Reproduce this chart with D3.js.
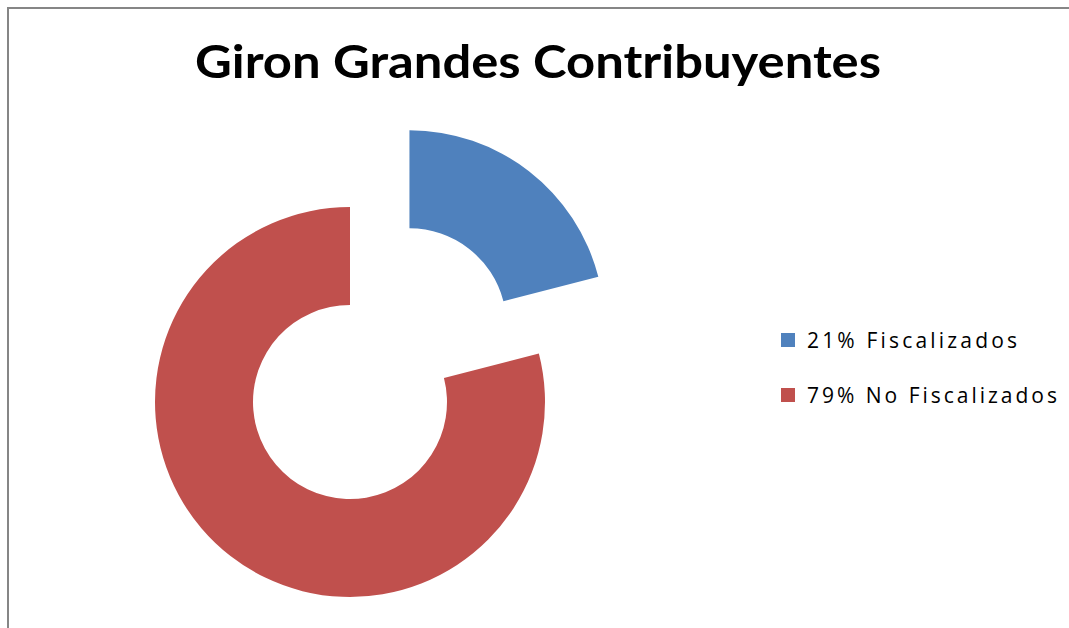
<!DOCTYPE html>
<html>
<head>
<meta charset="utf-8">
<script src="https://cdn.jsdelivr.net/npm/d3@7"></script>
<style>
  html, body { margin: 0; background: #fff; overflow: hidden; }
  svg { display: block; }
</style>
</head>
<body>
<div id="chart"></div>
<script>
// Data
const categories = ["21% Fiscalizados", "79% No Fiscalizados"];
const values = [21, 79];
const colors = ["#4F81BD", "#C0504D"];
const explode = [97, 0]; // first slice is pulled out

const width = 1069;
const height = 628;

const svg = d3.select("#chart")
  .append("svg")
  .attr("width", width)
  .attr("height", height);

// chart frame (only left and top edges are visible)
svg.append("rect")
  .attr("x", 8)
  .attr("y", 8)
  .attr("width", 1200)
  .attr("height", 800)
  .attr("fill", "none")
  .attr("stroke", "#868686")
  .attr("stroke-width", 2);

// Title
svg.append("text")
  .attr("x", 195)
  .attr("y", 78)
  .attr("textLength", 686)
  .attr("lengthAdjust", "spacingAndGlyphs")
  .attr("font-family", "Lato, 'Open Sans', sans-serif")
  .attr("font-weight", "bold")
  .attr("font-size", "46px")
  .text("Giron Grandes Contribuyentes");

/*
  Doughnut
*/
const cx = 350, cy = 402;
const outerR = 195, innerR = 97;

const pie = d3.pie().sort(null).value(d => d);
const arc = d3.arc().innerRadius(innerR).outerRadius(outerR);

const slices = pie(values);

svg.selectAll(".slice")
  .data(slices)
  .enter()
  .append("path")
    .attr("class", "slice")
    .attr("d", arc)
    .attr("fill", (d, i) => colors[i])
    .attr("transform", (d, i) => {
      const mid = (d.startAngle + d.endAngle) / 2;
      const dx = Math.sin(mid) * explode[i];
      const dy = -Math.cos(mid) * explode[i];
      return `translate(${cx + dx}, ${cy + dy})`;
    });

/*
  Legend
*/
const legendWidths = [210, 250];
const legend = svg.selectAll(".legend")
  .data(categories)
  .enter()
  .append("g")
    .attr("class", "legend")
    .attr("transform", (d, i) => `translate(781, ${333 + i * 55})`);

legend.append("rect")
  .attr("width", 14)
  .attr("height", 14)
  .attr("fill", (d, i) => colors[i]);

legend.append("text")
  .attr("x", 26)
  .attr("y", 15)
  .attr("textLength", (d, i) => legendWidths[i])
  .attr("lengthAdjust", "spacing")
  .attr("font-family", "'Open Sans', Lato, sans-serif")
  .attr("font-size", "21px")
  .attr("fill", "#000")
  .text(d => d);
</script>
</body>
</html>
